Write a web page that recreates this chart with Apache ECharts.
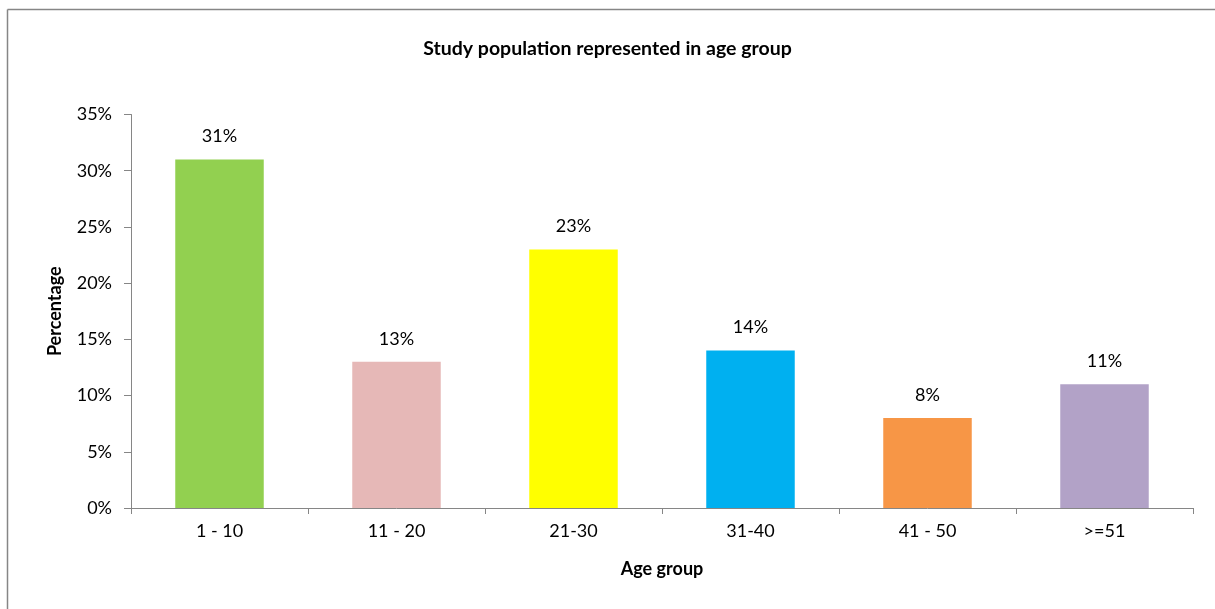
<!DOCTYPE html>
<html>
<head>
<meta charset="utf-8">
<style>
  html, body { margin: 0; padding: 0; background: #fff; }
  #chart { width: 1215px; height: 609px; }
</style>
<script src="https://cdn.jsdelivr.net/npm/echarts@6/dist/echarts.min.js"></script>
</head>
<body>
<div id="chart"></div>
<script>
// Age groups and share of the study population in each (percent)
const categories = ['1 - 10', '11 - 20', '21-30', '31-40', '41 - 50', '>=51'];
const percentages = [31, 13, 23, 14, 8, 11];
const barColors = ['#92d050', '#e6b8b7', '#ffff00', '#00b0f0', '#f79646', '#b2a2c7'];
const yTicks = [0, 5, 10, 15, 20, 25, 30, 35];

const FONT = 'Lato, "Open Sans", sans-serif';
const chart = echarts.init(document.getElementById('chart'), null, { renderer: 'canvas' });

chart.setOption({
  backgroundColor: '#ffffff',
  animation: false,
  title: {
    text: 'Study population represented in age group',
    left: 'center',
    top: 34,
    textStyle: { fontFamily: FONT, fontSize: 19.5, fontWeight: 'bold', color: '#000' }
  },
  // chart-area frame: top and left edges
  graphic: [
    {
      type: 'line',
      shape: { x1: 7.5, y1: 9.5, x2: 1215, y2: 9.5 },
      style: { stroke: '#868686', lineWidth: 1.5 },
      silent: true
    },
    {
      type: 'line',
      shape: { x1: 7.5, y1: 9.5, x2: 7.5, y2: 609 },
      style: { stroke: '#868686', lineWidth: 1.5 },
      silent: true
    }
  ],
  grid: { left: 131, right: 22, top: 114.5, bottom: 101, containLabel: false },
  xAxis: {
    type: 'category',
    data: categories,
    name: 'Age group',
    nameLocation: 'middle',
    nameGap: 52,
    nameTextStyle: { fontFamily: FONT, fontSize: 18, fontWeight: 'bold', color: '#000' },
    axisLine: { lineStyle: { color: '#868686', width: 1 } },
    axisTick: { show: true, length: 6, alignWithLabel: false, lineStyle: { color: '#868686' } },
    axisLabel: { fontFamily: FONT, fontSize: 18, color: '#000', margin: 14 }
  },
  yAxis: {
    type: 'value',
    min: yTicks[0],
    max: yTicks[yTicks.length - 1],
    interval: 5,
    name: 'Percentage',
    nameLocation: 'middle',
    nameGap: 67,
    nameRotate: 90,
    nameTextStyle: { fontFamily: FONT, fontSize: 18, fontWeight: 'bold', color: '#000' },
    axisLine: { show: true, lineStyle: { color: '#868686', width: 1 } },
    axisTick: { show: true, inside: false, length: 7, lineStyle: { color: '#868686' } },
    splitLine: { show: false },
    axisLabel: {
      fontFamily: FONT, fontSize: 18, color: '#000', margin: 19,
      formatter: v => v + '%'
    }
  },
  series: [{
    type: 'bar',
    barWidth: '50%',
    data: percentages.map((v, i) => ({ value: v, itemStyle: { color: barColors[i] } })),
    label: {
      show: true,
      position: 'top',
      distance: 14,
      fontFamily: FONT,
      fontSize: 18,
      color: '#000',
      formatter: p => p.value + '%'
    }
  }]
});
</script>
</body>
</html>
